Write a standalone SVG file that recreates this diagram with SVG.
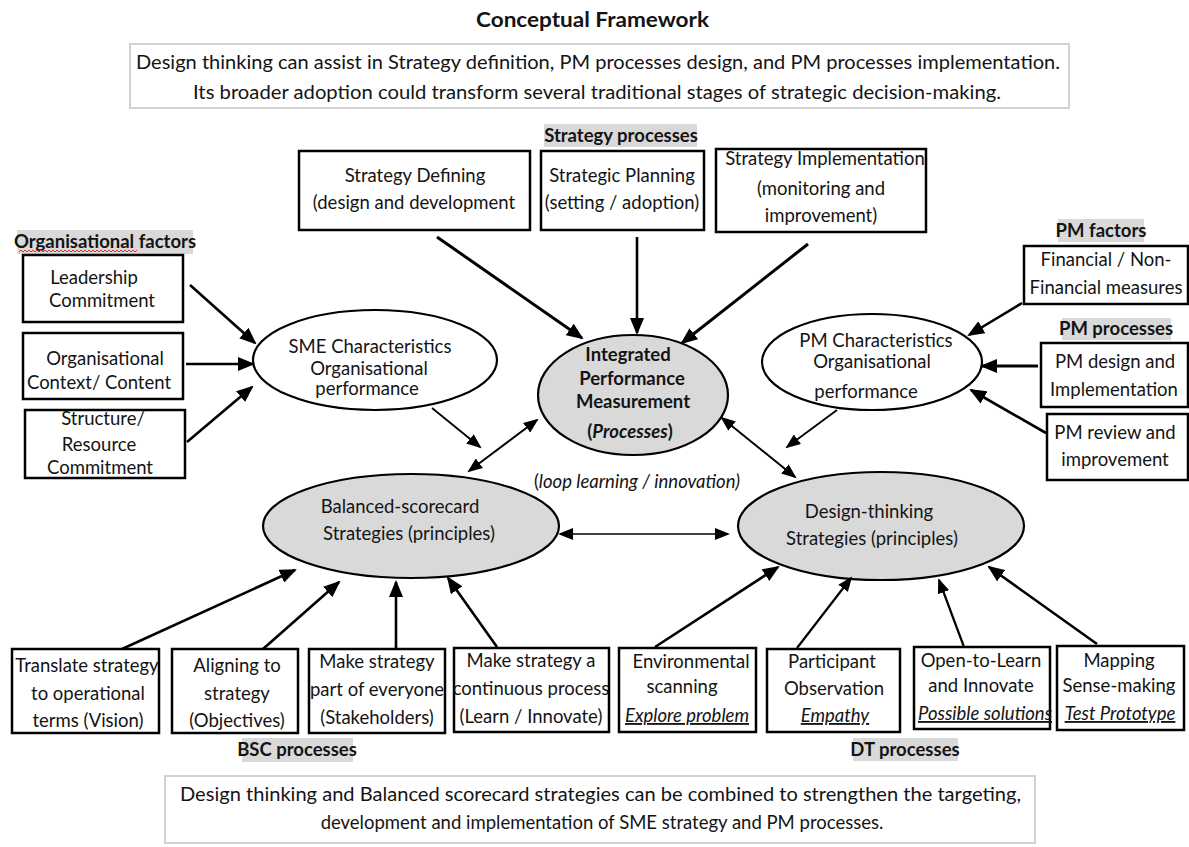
<svg xmlns="http://www.w3.org/2000/svg" width="1189" height="847" viewBox="0 0 1189 847">
  <style>
    text { font-family: Lato, "Liberation Sans", sans-serif; font-size: 18.5px; fill: #141414; }
    .c { text-anchor: middle; }
    .b { font-weight: bold; }
    .i { font-style: italic; }
    .u { text-decoration: underline; }
    .box { fill: #fff; stroke: #000; stroke-width: 2.5; }
    .note { fill: #fff; stroke: #d2d2d2; stroke-width: 2; }
    .tag { fill: #d9d9d9; }
    .ell { fill: #fff; stroke: #000; stroke-width: 2.2; }
    .ell.g { fill: #d9d9d9; }
    .ar { stroke: #000; stroke-width: 2.6; fill: none; marker-end: url(#ah); }
    .ar.t { stroke-width: 1.8; marker-end: url(#ahs); }
    .ar.d { stroke-width: 2; marker-start: url(#ahs); marker-end: url(#ahs); }
  </style>
  <defs>
    <marker id="ah" markerUnits="userSpaceOnUse" markerWidth="18" markerHeight="14" refX="15" refY="7" orient="auto-start-reverse">
      <path d="M0,0 L17,7 L0,14 z" fill="#000"/>
    </marker>
    <marker id="ahs" markerUnits="userSpaceOnUse" markerWidth="16" markerHeight="12" refX="13" refY="6" orient="auto-start-reverse">
      <path d="M0,0 L15,6 L0,12 z" fill="#000"/>
    </marker>
  </defs>

  <rect width="1189" height="847" fill="#fff"/>

  <!-- title and summary notes -->
  <g id="title">
    <text class="b" x="476" y="27" textLength="233" lengthAdjust="spacingAndGlyphs" style="font-size:20px">Conceptual Framework</text>
  </g>
  <g id="note-top">
    <rect class="note" x="130" y="44" width="939" height="64"/>
    <text x="136" y="69" textLength="924" lengthAdjust="spacingAndGlyphs">Design thinking can assist in Strategy definition, PM processes design, and PM processes implementation.</text>
    <text x="193" y="99" textLength="808" lengthAdjust="spacingAndGlyphs">Its broader adoption could transform several traditional stages of strategic decision-making.</text>
  </g>
  <g id="note-bottom">
    <rect class="note" x="165" y="776" width="870" height="67"/>
    <text x="180" y="801" textLength="841" lengthAdjust="spacingAndGlyphs">Design thinking and Balanced scorecard strategies can be combined to strengthen the targeting,</text>
    <text class="c" x="602" y="829">development and implementation of SME strategy and PM processes.</text>
  </g>

  <!-- group labels -->
  <g id="label-strategy">
    <rect class="tag" x="544" y="124" width="153" height="23"/>
    <text class="c b" x="621" y="142">Strategy processes</text>
  </g>
  <g id="label-org">
    <rect class="tag" x="17" y="230" width="176" height="24"/>
    <text class="c b" x="105" y="248">Organisational factors</text>
    <path d="M19,252 l2,-2 l2,2 l2,-2 l2,2 l2,-2 l2,2 l2,-2 l2,2 l2,-2 l2,2 l2,-2 l2,2 l2,-2 l2,2 l2,-2 l2,2 l2,-2 l2,2 l2,-2 l2,2 l2,-2 l2,2 l2,-2 l2,2 l2,-2 l2,2 l2,-2 l2,2 l2,-2 l2,2 l2,-2 l2,2 l2,-2 l2,2 l2,-2 l2,2 l2,-2 l2,2 l2,-2 l2,2 l2,-2 l2,2 l2,-2 l2,2 l2,-2 l2,2 l2,-2 l2,2 l2,-2 l2,2 l2,-2 l2,2 l2,-2 l2,2 l2,-2 l2,2 l2,-2 l2,2 l2,-2" fill="none" stroke="#e0302a" stroke-width="1"/>
  </g>
  <g id="label-pm-factors">
    <rect class="tag" x="1058" y="219" width="86" height="23"/>
    <text class="c b" x="1101" y="237">PM factors</text>
  </g>
  <g id="label-pm-processes">
    <rect class="tag" x="1062" y="318" width="109" height="22"/>
    <text class="c b" x="1116" y="335">PM processes</text>
  </g>
  <g id="label-bsc">
    <rect class="tag" x="242" y="738" width="111" height="24"/>
    <text class="c b" x="297" y="756">BSC processes</text>
  </g>
  <g id="label-dt">
    <rect class="tag" x="853" y="738" width="105" height="23"/>
    <text class="c b" x="905" y="756">DT processes</text>
  </g>

  <!-- strategy process boxes -->
  <g id="strategy-defining">
    <rect class="box" x="299" y="151" width="231" height="79"/>
    <text class="c" x="415" y="182">Strategy Defining</text>
    <text class="c" x="414" y="209">(design and development</text>
  </g>
  <g id="strategic-planning">
    <rect class="box" x="541" y="151" width="163" height="79"/>
    <text class="c" x="622" y="182">Strategic Planning</text>
    <text class="c" x="622" y="209">(setting / adoption)</text>
  </g>
  <g id="strategy-implementation">
    <rect class="box" x="716" y="149" width="210" height="83"/>
    <text class="c" x="825" y="165">Strategy Implementation</text>
    <text class="c" x="821" y="195">(monitoring and</text>
    <text class="c" x="821" y="222">improvement)</text>
  </g>

  <!-- organisational factor boxes -->
  <g id="leadership">
    <rect class="box" x="23" y="255" width="160" height="67"/>
    <text class="c" x="94" y="284">Leadership</text>
    <text class="c" x="102" y="307">Commitment</text>
  </g>
  <g id="org-context">
    <rect class="box" x="23" y="333" width="160" height="66"/>
    <text class="c" x="105" y="365">Organisational</text>
    <text class="c" x="99" y="389">Context/ Content</text>
  </g>
  <g id="structure">
    <rect class="box" x="25" y="410" width="160" height="68"/>
    <text class="c" x="103" y="425">Structure/</text>
    <text class="c" x="99" y="451">Resource</text>
    <text class="c" x="100" y="474">Commitment</text>
  </g>

  <!-- PM factor / process boxes -->
  <g id="financial">
    <rect class="box" x="1024" y="246" width="164" height="58"/>
    <text class="c" x="1106" y="266">Financial / Non-</text>
    <text class="c" x="1106" y="294">Financial measures</text>
  </g>
  <g id="pm-design">
    <rect class="box" x="1041" y="343" width="147" height="64"/>
    <text class="c" x="1115" y="368">PM design and</text>
    <text class="c" x="1114" y="396">Implementation</text>
  </g>
  <g id="pm-review">
    <rect class="box" x="1047" y="414" width="141" height="66"/>
    <text class="c" x="1115" y="439">PM review and</text>
    <text class="c" x="1115" y="466">improvement</text>
  </g>

  <!-- ellipses -->
  <g id="sme">
    <ellipse class="ell" cx="375" cy="360" rx="122" ry="50"/>
    <text class="c" x="370" y="353">SME Characteristics</text>
    <text class="c" x="369" y="375">Organisational</text>
    <text class="c" x="367" y="395">performance</text>
  </g>
  <g id="ipm">
    <ellipse class="ell g" cx="633" cy="395" rx="95" ry="60"/>
    <text class="c b" x="628" y="361">Integrated</text>
    <text class="c b" x="632" y="385">Performance</text>
    <text class="c b" x="633" y="408">Measurement</text>
    <text class="c b" x="630" y="438">(<tspan class="i">Processes</tspan>)</text>
  </g>
  <g id="pm-char">
    <ellipse class="ell" cx="872" cy="362" rx="110" ry="48"/>
    <text class="c" x="876" y="347">PM Characteristics</text>
    <text class="c" x="872" y="368">Organisational</text>
    <text class="c" x="866" y="398">performance</text>
  </g>
  <g id="loop-note">
    <text class="c" x="637" y="488">(<tspan class="i">loop learning / innovation)</tspan></text>
  </g>
  <g id="bsc">
    <ellipse class="ell g" cx="411" cy="526" rx="148" ry="52"/>
    <text class="c" x="400" y="513">Balanced-scorecard</text>
    <text class="c" x="409" y="540">Strategies (principles)</text>
  </g>
  <g id="dt">
    <ellipse class="ell g" cx="881" cy="526" rx="143" ry="54"/>
    <text class="c" x="869" y="518">Design-thinking</text>
    <text class="c" x="872" y="545">Strategies (principles)</text>
  </g>

  <!-- BSC process boxes -->
  <g id="bsc-translate">
    <rect class="box" x="12" y="649" width="147" height="84"/>
    <text class="c" x="87" y="672">Translate strategy</text>
    <text class="c" x="88" y="700">to operational</text>
    <text class="c" x="88" y="727">terms (Vision)</text>
  </g>
  <g id="bsc-aligning">
    <rect class="box" x="172" y="649" width="126" height="84"/>
    <text class="c" x="237" y="672">Aligning to</text>
    <text class="c" x="237" y="700">strategy</text>
    <text class="c" x="237" y="727">(Objectives)</text>
  </g>
  <g id="bsc-everyone">
    <rect class="box" x="309" y="649" width="136" height="84"/>
    <text class="c" x="377" y="668">Make strategy</text>
    <text class="c" x="377" y="696">part of everyone</text>
    <text class="c" x="377" y="724">(Stakeholders)</text>
  </g>
  <g id="bsc-continuous">
    <rect class="box" x="454" y="648" width="155" height="84"/>
    <text class="c" x="531" y="667">Make strategy a</text>
    <text class="c" x="531" y="695">continuous process</text>
    <text class="c" x="531" y="723">(Learn / Innovate)</text>
  </g>

  <!-- DT process boxes -->
  <g id="dt-environmental">
    <rect class="box" x="619" y="648" width="137" height="84"/>
    <text class="c" x="691" y="668">Environmental</text>
    <text class="c" x="682" y="693">scanning</text>
    <text class="c i u" x="687" y="722">Explore problem</text>
  </g>
  <g id="dt-participant">
    <rect class="box" x="767" y="649" width="133" height="83"/>
    <text class="c" x="832" y="668">Participant</text>
    <text class="c" x="834" y="695">Observation</text>
    <text class="c i u" x="835" y="722">Empathy</text>
  </g>
  <g id="dt-open">
    <rect class="box" x="914" y="647" width="136" height="82"/>
    <text class="c" x="981" y="667">Open-to-Learn</text>
    <text class="c" x="981" y="692">and Innovate</text>
    <text class="c i u" x="985" y="720">Possible solutions</text>
  </g>
  <g id="dt-mapping">
    <rect class="box" x="1057" y="646" width="127" height="84"/>
    <text class="c" x="1119" y="667">Mapping</text>
    <text class="c" x="1119" y="692">Sense-making</text>
    <text class="c i u" x="1120" y="720">Test Prototype</text>
  </g>

  <!-- connectors -->
  <g id="connectors">
    <line class="ar" x1="190" y1="285" x2="255" y2="343"/>
    <line class="ar" x1="186" y1="364" x2="253" y2="364"/>
    <line class="ar" x1="187" y1="442" x2="252" y2="387"/>
    <line class="ar" x1="437" y1="237" x2="582" y2="338" style="stroke-width:3"/>
    <line class="ar" x1="637" y1="237" x2="637" y2="333"/>
    <line class="ar" x1="808" y1="244" x2="682" y2="343" style="stroke-width:3"/>
    <line class="ar t" x1="432" y1="408" x2="480" y2="447"/>
    <line class="ar d" x1="537" y1="420" x2="469" y2="471"/>
    <line class="ar d" x1="722" y1="418" x2="795" y2="477"/>
    <line class="ar t" x1="837" y1="410" x2="787" y2="447"/>
    <line class="ar" x1="1022" y1="303" x2="969" y2="335"/>
    <line class="ar" x1="1038" y1="366" x2="982" y2="366" style="stroke-width:3"/>
    <line class="ar" x1="1046" y1="433" x2="971" y2="390"/>
    <line class="ar d" x1="560" y1="534" x2="728" y2="534" style="stroke-width:1.5"/>
    <line class="ar" x1="122" y1="649" x2="295" y2="570"/>
    <line class="ar" x1="263" y1="649" x2="339" y2="582"/>
    <line class="ar" x1="396" y1="648" x2="396" y2="582"/>
    <line class="ar" x1="497" y1="647" x2="448" y2="578"/>
    <line class="ar" x1="655" y1="647" x2="778" y2="567"/>
    <line class="ar t" x1="797" y1="648" x2="851" y2="578" style="stroke-width:2.2"/>
    <line class="ar t" x1="964" y1="647" x2="939" y2="580" style="stroke-width:2.2"/>
    <line class="ar" x1="1097" y1="644" x2="989" y2="567"/>
  </g>
</svg>
